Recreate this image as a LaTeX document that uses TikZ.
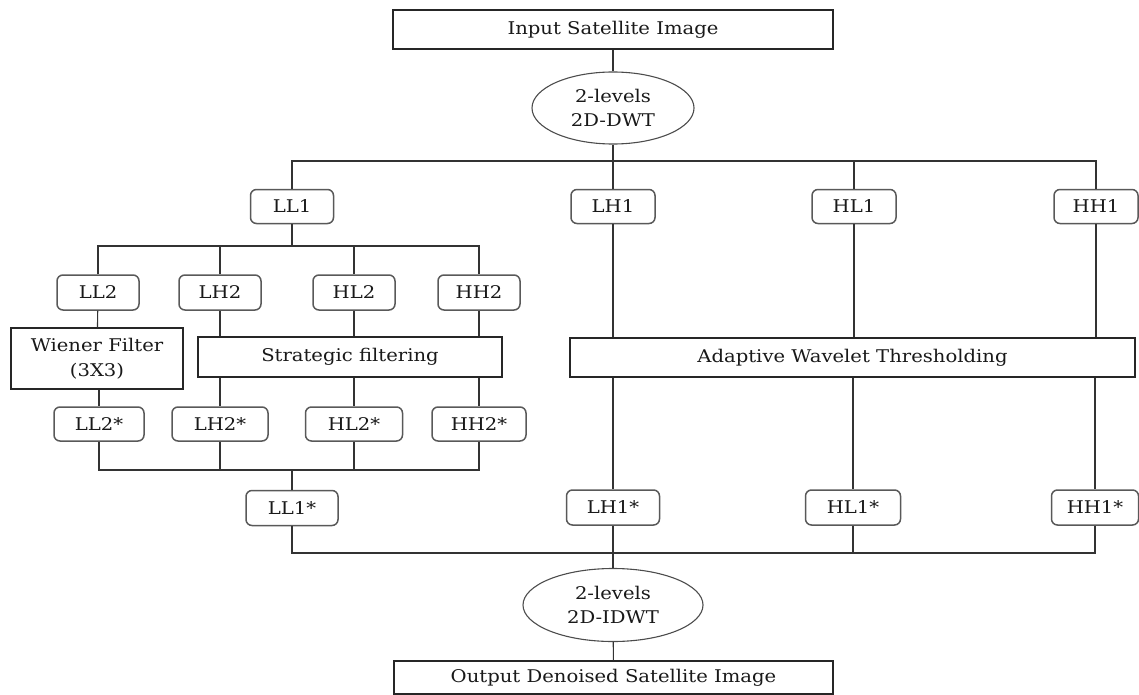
\documentclass[tikz,border=0pt]{standalone}
\usepackage{fontspec}
\setmainfont{DejaVu Serif}[FakeStretch=1.12]
\usetikzlibrary{shapes.geometric}
\tikzset{
  conn/.style={draw=black!80, line width=1.1pt},
  sqbox/.style={draw=black!85, line width=1.1pt, rectangle, inner sep=0pt, align=center, text=black!90, font=\fontsize{17.5}{25}\selectfont},
  rbox/.style={draw=black!65, line width=1.5pt, rectangle, rounded corners=6pt, inner sep=0pt, minimum height=34pt, text=black!90, font=\fontsize{17.5}{20}\selectfont},
  ellbox/.style={draw=black!70, line width=1.1pt, ellipse, inner sep=0pt, align=center, text=black!90, font=\fontsize{17.5}{24}\selectfont},
}
\begin{document}
\begin{tikzpicture}[x=1pt, y=-1pt]
\useasboundingbox (0,0) rectangle (1139,695);
% top
\node[sqbox, minimum width=440pt, minimum height=39pt] (in) at (613,29.5) {Input Satellite Image};
\node[ellbox, minimum width=162pt, minimum height=72pt] (dwt) at (613,108) {2-levels\\2D-DWT};
% level 1
\node[rbox, minimum width=83pt] (LL1) at (292,206.5) {LL1};
\node[rbox, minimum width=84pt] (LH1) at (613,206.5) {LH1};
\node[rbox, minimum width=84pt] (HL1) at (854,206.5) {HL1};
\node[rbox, minimum width=84pt] (HH1) at (1096,206.5) {HH1};
\coordinate (b1) at (613,161);
% level 2
\coordinate (b2) at (292,246);
\node[rbox, minimum width=82pt, minimum height=35pt] (LL2) at (98,292.5) {LL2};
\node[rbox, minimum width=82pt, minimum height=35pt] (LH2) at (220,292.5) {LH2};
\node[rbox, minimum width=82pt, minimum height=35pt] (HL2) at (354,292.5) {HL2};
\node[rbox, minimum width=82pt, minimum height=35pt] (HH2) at (479,292.5) {HH2};
\node[sqbox, minimum width=172pt, minimum height=61pt] (wien) at (97,358.5) {Wiener Filter\\(3X3)};
\node[sqbox, minimum width=304pt, minimum height=40pt] (sf) at (350,357) {Strategic filtering};
\node[sqbox, minimum width=565pt, minimum height=39pt] (adp) at (852.5,357.5) {Adaptive Wavelet Thresholding};
\node[rbox, minimum width=90pt] (LL2s) at (99,424) {LL2*};
\node[rbox, minimum width=96pt] (LH2s) at (220,424) {LH2*};
\node[rbox, minimum width=97pt] (HL2s) at (354,424) {HL2*};
\node[rbox, minimum width=94pt] (HH2s) at (479,424) {HH2*};
\coordinate (b3) at (292,470);
% level 1 starred
\node[rbox, minimum width=92pt, minimum height=35pt] (LL1s) at (292,508) {LL1*};
\node[rbox, minimum width=93pt, minimum height=35pt] (LH1s) at (613,507.5) {LH1*};
\node[rbox, minimum width=95pt, minimum height=35pt] (HL1s) at (853,507.5) {HL1*};
\node[rbox, minimum width=87pt, minimum height=35pt] (HH1s) at (1095,507.5) {HH1*};
\coordinate (b4) at (613,553);
% bottom
\node[ellbox, minimum width=180pt, minimum height=73pt] (idwt) at (613,605) {2-levels\\2D-IDWT};
\node[sqbox, minimum width=439pt, minimum height=33pt] (out) at (613.5,677.5) {Output Denoised Satellite Image};

% connectors top
\draw[conn] (in) -- (dwt);
\draw[conn] (dwt) -- (LH1);
\draw[conn] (LL1.north) -- (LL1.north |- b1) -| (HH1.north);
\draw[conn] (HL1.north) -- (HL1.north |- b1);
% level 2 bus
\draw[conn] (LL1.south) -- (b2);
\draw[conn] (LL2.north) -- (LL2.north |- b2) -| (HH2.north);
\draw[conn] (LH2.north) -- (LH2.north |- b2);
\draw[conn] (HL2.north) -- (HL2.north |- b2);
% filters
\draw[conn] (LL2) -- (wien);
\draw[conn] (wien.south -| LL2s.north) -- (LL2s.north);
\draw[conn] (LH2.south) -- (LH2.south |- sf.north);
\draw[conn] (HL2.south) -- (HL2.south |- sf.north);
\draw[conn] (HH2.south) -- (HH2.south |- sf.north);
\draw[conn] (LH2s.north |- sf.south) -- (LH2s.north);
\draw[conn] (HL2s.north |- sf.south) -- (HL2s.north);
\draw[conn] (HH2s.north |- sf.south) -- (HH2s.north);
% bus 3
\draw[conn] (LL2s.south) -- (LL2s.south |- b3) -| (HH2s.south);
\draw[conn] (LH2s.south) -- (LH2s.south |- b3);
\draw[conn] (HL2s.south) -- (HL2s.south |- b3);
\draw[conn] (b3) -- (LL1s.north);
% adaptive
\draw[conn] (LH1.south) -- (LH1.south |- adp.north);
\draw[conn] (HL1.south) -- (HL1.south |- adp.north);
\draw[conn] (HH1.south) -- (HH1.south |- adp.north);
\draw[conn] (LH1s.north |- adp.south) -- (LH1s.north);
\draw[conn] (HL1s.north |- adp.south) -- (HL1s.north);
\draw[conn] (HH1s.north |- adp.south) -- (HH1s.north);
% bus 4
\draw[conn] (LL1s.south) -- (LL1s.south |- b4) -| (HH1s.south);
\draw[conn] (HL1s.south) -- (HL1s.south |- b4);
\draw[conn] (LH1s) -- (idwt);
\draw[conn] (idwt) -- (out);
\end{tikzpicture}
\end{document}
